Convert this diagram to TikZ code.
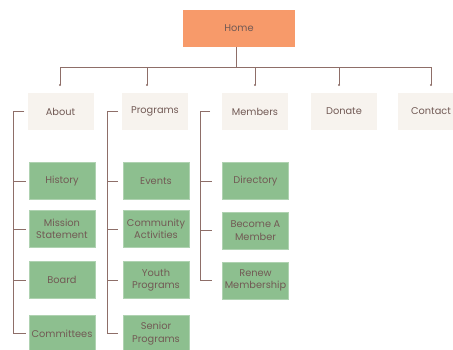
\documentclass[tikz,border=0pt]{standalone}
\usepackage{fontspec}
\setmainfont{Poppins}
\definecolor{homeorange}{HTML}{F79A6A}
\definecolor{pagebeige}{HTML}{F7F3EE}
\definecolor{leafgreen}{HTML}{8DBF8F}
\definecolor{inkbrown}{HTML}{725A55}
\definecolor{wirebrown}{HTML}{8E6E68}
\begin{document}
\begin{tikzpicture}[x=1pt,y=-1pt,
  box/.style={minimum width=66pt,minimum height=37pt,inner sep=1pt,align=center,
    text=inkbrown,font=\fontsize{9.8}{12.6}\selectfont},
  homebox/.style={box,fill=homeorange,minimum width=112pt},
  topbox/.style={box,fill=pagebeige},
  leaf/.style={box,fill=leafgreen,draw=leafgreen!70!white,line width=0.6pt},
  wire/.style={draw=wirebrown,line width=0.85pt},
  tipdot/.style={fill=wirebrown,radius=1.1pt}]
\useasboundingbox (0,0) rectangle (453,349);

% home page
\node[homebox] (home) at (239,28.5) {Home};

% top level sections
\node[topbox] (about) at (60.5,111.5) {About};
\node[topbox] (programs) at (155,111.5) {Programs};
\node[topbox] (members) at (255,111.5) {Members};
\node[topbox] (donate) at (344,111.5) {Donate};
\node[topbox] (contact) at (431,111.5) {Contact};

% about pages
\node[leaf] (history) at (62,181) {History};
\node[leaf] (mission) at (62,229) {Mission\\Statement};
\node[leaf] (board) at (62,280) {Board};
\node[leaf] (committees) at (62,333.5) {Committees};

% program pages
\node[leaf] (events) at (156,181) {Events};
\node[leaf] (community) at (156,229) {Community\\Activities};
\node[leaf] (youth) at (156,280) {Youth\\Programs};
\node[leaf] (senior) at (156,333.5) {Senior\\Programs};

% member pages
\node[leaf] (directory) at (255.5,181) {Directory};
\node[leaf] (become) at (255.5,230.5) {Become A\\Member};
\node[leaf] (renew) at (255.5,280.5) {Renew\\Membership};

% main bus below home
\coordinate (bus) at (236,67);
\coordinate (busL) at (60,67);
\coordinate (busR) at (431,67);
\draw[wire] (home.south -| bus) -- (bus);
\draw[wire] (busL) -- (busR);
\foreach \n/\x in {about/60,programs/147,members/255,donate/339,contact/431}{
  \coordinate (drop-\n) at (\x,85);
  \draw[wire] (\x,67) -- (drop-\n);
  \fill[wirebrown] (drop-\n) circle[radius=1.1pt];
}

% brackets for each column
\coordinate (aboutrail) at (13,111);
\draw[wire] (about.west |- aboutrail) ++(-3,0) -- (aboutrail) -- (aboutrail |- committees);
\foreach \c in {history,mission,board,committees}
  \draw[wire] (aboutrail |- \c) -- ++(13,0);

\coordinate (prograil) at (107,111);
\draw[wire] (118,111) -- (prograil) -- (prograil |- senior);
\foreach \c in {events,community,youth,senior}
  \draw[wire] (prograil |- \c) -- ++(11,0);

\coordinate (memrail) at (200,111);
\draw[wire] (210,111) -- (memrail) -- (memrail |- renew);
\foreach \c in {directory,become,renew}
  \draw[wire] (memrail |- \c) -- ++(12,0);
\end{tikzpicture}
\end{document}
